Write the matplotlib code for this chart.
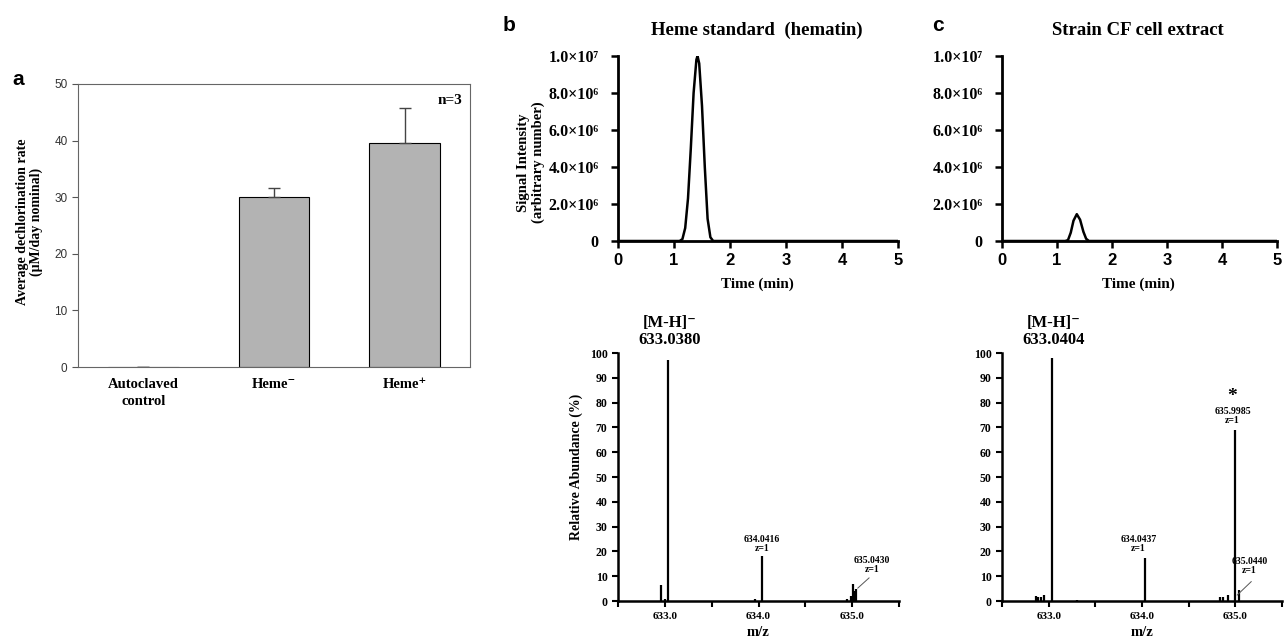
import matplotlib.pyplot as plt

W, H = 1285, 640
SERIF = ['Liberation Serif', 'DejaVu Serif']
SANS = ['Liberation Sans', 'DejaVu Sans']

# panel a: dechlorination rates
groups = ['Autoclaved\ncontrol', 'Heme⁻', 'Heme⁺']
rates = [0.0, 30.1, 39.5]
rate_err = [0.0, 1.6, 6.2]

# panel b/c top: chromatograms (time in min, intensity in 1e6)
t_std = [0, 1.10, 1.15, 1.20, 1.25, 1.30, 1.35, 1.40, 1.42, 1.45, 1.50, 1.55, 1.60, 1.65, 1.70, 5]
i_std = [0, 0, 0.1, 0.7, 2.3, 5.0, 8.0, 9.8, 10.0, 9.6, 7.3, 4.0, 1.2, 0.2, 0, 0]
t_cf = [0, 1.15, 1.20, 1.25, 1.30, 1.36, 1.42, 1.48, 1.53, 1.58, 5]
i_cf = [0, 0, 0.05, 0.45, 1.1, 1.45, 1.15, 0.5, 0.12, 0, 0]

# panel b/c bottom: mass spectra (m/z, relative abundance %)
mz_std = [632.955, 633.000, 633.038, 633.960, 634.042, 634.940, 634.990, 635.008, 635.020, 635.043]
ab_std = [6.5, 0.8, 97.0, 1.0, 18.0, 1.0, 2.0, 7.0, 4.0, 4.8]
mz_cf = [632.86, 632.89, 632.92, 632.95, 633.040, 633.30, 634.030, 634.84, 634.87, 634.92, 634.998, 635.044]
ab_cf = [2.0, 1.5, 1.5, 2.5, 98.0, 0.5, 17.5, 1.5, 1.5, 2.5, 69.0, 4.5]

yt_chrom = [0, 2, 4, 6, 8, 10]
yt_chrom_lbl = ['0', '2.0×10⁶', '4.0×10⁶', '6.0×10⁶', '8.0×10⁶', '1.0×10⁷']
xt_ms = [632.5, 633.0, 633.5, 634.0, 634.5, 635.0, 635.5]
xt_ms_lbl = ['', '633.0', '', '634.0', '', '635.0', '']

fig = plt.figure(figsize=(W / 100, H / 100), dpi=100)


def add_ax(l, t, r, b):
    return fig.add_axes([l / W, 1 - b / H, (r - l) / W, (b - t) / H])


def letter(x, y, s):
    fig.text(x / W, 1 - y / H, s, family=SANS, weight='bold', fontsize=15, va='baseline')


# ---- a ----
ax = add_ax(78, 84, 470, 367)
xs = range(len(groups))
ax.bar(xs, rates, width=0.54, color='#b3b3b3', edgecolor='black', linewidth=0.8,
       yerr=[[0, 0, 0], rate_err], ecolor='#444444', capsize=4, error_kw={'elinewidth': 1})
ax.set_xlim(-0.5, 2.5)
ax.set_ylim(0, 50)
ax.set_yticks([0, 10, 20, 30, 40, 50])
ax.set_xticks(list(xs))
ax.set_xticklabels(groups, family=SERIF, weight='bold', fontsize=10.5, linespacing=1.35)
ax.tick_params(axis='x', length=0, pad=8)
ax.tick_params(axis='y', length=4, color='#555555', labelsize=8.5, labelcolor='#333333', direction='out')
for lab in ax.get_yticklabels():
    lab.set_family(SANS)
for sp in ax.spines.values():
    sp.set_color('#666666')
    sp.set_linewidth(0.8)
ax.set_ylabel('Average dechlorination rate\n(μM/day nominal)', family=SERIF, weight='bold',
              fontsize=10, linespacing=1.1)
ax.yaxis.set_label_coords(-0.089, 0.512)
ax.text(0.98, 0.965, 'n=3', transform=ax.transAxes, ha='right', va='top',
        family=SERIF, weight='bold', fontsize=11)
letter(12, 85, 'a')


# ---- chromatograms ----
def chrom(ax, t, inten, title, tx, ylabel):
    ax.plot(t, inten, color='black', lw=1.8)
    ax.set_xlim(0, 5)
    ax.set_ylim(0, 10)
    ax.set_yticks(yt_chrom)
    ax.set_yticklabels(yt_chrom_lbl, family=SERIF, weight='bold', fontsize=11.5)
    ax.set_xticks([0, 1, 2, 3, 4, 5])
    ax.set_xticklabels(['0', '1', '2', '3', '4', '5'], family=SANS, weight='bold', fontsize=12)
    ax.tick_params(width=1.8, length=5, direction='out')
    ax.tick_params(axis='y', pad=9)
    for s in ['top', 'right']:
        ax.spines[s].set_visible(False)
    for s in ['left', 'bottom']:
        ax.spines[s].set_linewidth(2)
    ax.set_xlabel('Time (min)', family=SERIF, weight='bold', fontsize=11)
    ax.xaxis.set_label_coords(0.496, -0.195)
    ax.text(tx, 1.14, title, transform=ax.transAxes, ha='center', va='center',
            family=SERIF, weight='bold', fontsize=13.5)
    if ylabel:
        ax.set_ylabel(ylabel, family=SERIF, weight='bold', fontsize=10.5, linespacing=1.1)
        ax.yaxis.set_label_coords(-0.262, 0.424)


ax_b1 = add_ax(618, 56, 898, 241)
chrom(ax_b1, t_std, i_std, 'Heme standard  (hematin)', 0.496, 'Signal Intensity\n(arbitrary number)')
ax_c1 = add_ax(1002, 56, 1277, 241)
chrom(ax_c1, t_cf, i_cf, 'Strain CF cell extract', 0.494, None)
letter(503, 31, 'b')
letter(932, 31, 'c')


# ---- mass spectra ----
def spectrum(ax, mz, ab, head, ylabel):
    ax.vlines(mz, 0, ab, color='black', lw=1.6)
    ax.set_xlim(632.5, 635.5)
    ax.set_ylim(0, 100)
    ax.set_yticks(range(0, 101, 10))
    ax.set_yticklabels([str(v) for v in range(0, 101, 10)], family=SERIF, weight='bold', fontsize=8.5)
    ax.set_xticks(xt_ms)
    ax.set_xticklabels(xt_ms_lbl, family=SERIF, weight='bold', fontsize=8)
    ax.tick_params(width=1.5, length=4, direction='out')
    ax.tick_params(axis='x', pad=4)
    for s in ['top', 'right']:
        ax.spines[s].set_visible(False)
    for s in ['left', 'bottom']:
        ax.spines[s].set_linewidth(1.8)
    ax.set_xlabel('m/z', family=SERIF, weight='bold', fontsize=10.5)
    ax.xaxis.set_label_coords(0.5, -0.1)
    if ylabel:
        ax.set_ylabel(ylabel, family=SERIF, weight='bold', fontsize=10)
        ax.yaxis.set_label_coords(-0.125, 0.54)
    ax.text(633.05, 102, '[M-H]⁻\n' + head, ha='center', va='bottom', family=SERIF,
            weight='bold', fontsize=12, linespacing=1.1, clip_on=False)


def peak_label(ax, x, y, s):
    ax.text(x, y, s, ha='center', va='bottom', family=SERIF, weight='bold',
            fontsize=7, linespacing=1.0)


ax_b2 = add_ax(618, 353, 899, 601)
spectrum(ax_b2, mz_std, ab_std, '633.0380', 'Relative Abundance (%)')
peak_label(ax_b2, 634.04, 19.5, '634.0416\nz=1')
peak_label(ax_b2, 635.21, 11, '635.0430\nz=1')
ax_b2.plot([635.18, 635.06], [9.3, 5.2], color='#555555', lw=0.7)

ax_c2 = add_ax(1002, 353, 1282, 601)
spectrum(ax_c2, mz_cf, ab_cf, '633.0404', None)
peak_label(ax_c2, 633.96, 19.5, '634.0437\nz=1')
peak_label(ax_c2, 634.97, 71, '635.9985\nz=1')
ax_c2.text(634.97, 79, '*', ha='center', va='bottom', family=SERIF, weight='bold', fontsize=14)
peak_label(ax_c2, 635.15, 10.5, '635.0440\nz=1')
ax_c2.plot([635.17, 635.02], [7.8, 2.4], color='#555555', lw=0.7)

fig.savefig('out.png', dpi=100)
